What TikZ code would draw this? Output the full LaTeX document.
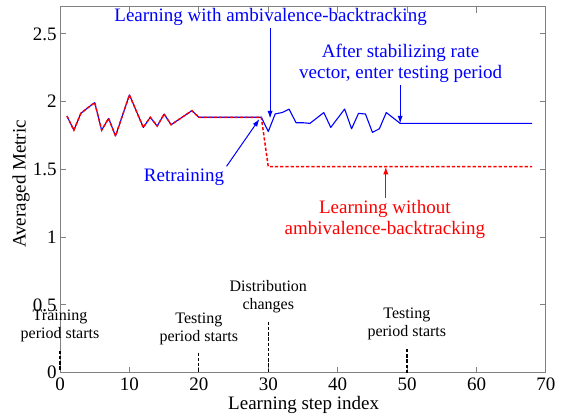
\documentclass[tikz,border=0pt]{standalone}
\usepackage{fontspec}
\setmainfont{Liberation Serif}
\usetikzlibrary{arrows.meta}

\begin{document}
\begin{tikzpicture}[x=3.471pt, y=67.75pt,
	every node/.style={font=\fontsize{9.5}{10.5}\selectfont},
	axisline/.style={black!50, line width=0.5pt},
	bluetext/.style={blue, align=center, inner sep=1pt},
	redtext/.style={red, align=center, inner sep=1pt},
	note/.style={align=center, inner sep=0pt, font=\fontsize{8}{8.75}\selectfont},
	blueline/.style={blue, line width=0.55pt, line join=round},
	redline/.style={red, line width=0.75pt, dash pattern=on 1.6pt off 1pt},
	bluearrow/.style={blue, line width=0.5pt, -{Latex[length=3.8pt,width=2.6pt]}},
	redarrow/.style={red, line width=0.5pt, -{Latex[length=3.8pt,width=2.6pt]}},
	startline/.style={black, dash pattern=on 1.7pt off 0.9pt}]
	\useasboundingbox (-8.643,-0.3343) rectangle (72.31,2.7506);
	% axes box and ticks
	\draw[axisline] (0,0) rectangle (70,2.7);
	\foreach \x in {10,20,...,60} {
		\draw[axisline] (\x,0) -- ++(0,3pt);
		\draw[axisline] (\x,2.7) -- ++(0,-3pt);
	}
	\foreach \y in {0.5,1,1.5,2,2.5} {
		\draw[axisline] (0,\y) -- ++(3pt,0);
		\draw[axisline] (70,\y) -- ++(-3pt,0);
	}
	\foreach \x in {0,10,...,70}
		\node (xt\x) at (\x,-0.087) {\x};
	\foreach \y [count=\i] in {0,0.5,1,1.5,2,2.5}
		\node[anchor=east, inner sep=0pt] (yt\i) at (-0.43,\y) {\y};
	\node (xlab) at (35.1,-0.238) {Learning step index};
	\node[rotate=90] (ylab) at (-5.62,1.393) {Averaged Metric};
	% with backtracking
	\draw[blueline] (1,1.894) -- (2,1.79) -- (3,1.914) -- (4,1.955) -- (5,1.993) -- (6,1.79) -- (7,1.877) -- (8,1.747) -- (10,2.05) -- (12,1.81) -- (13,1.885) -- (14,1.82) -- (15,1.909) -- (16,1.83) -- (19,1.934) -- (20,1.885) -- (29,1.885) -- (30,1.78) -- (31,1.91) -- (32,1.92) -- (33,1.945) -- (34,1.845) -- (35,1.845) -- (36,1.84) -- (38,1.92) -- (39,1.81) -- (41,1.946) -- (42,1.80) -- (43,1.914) -- (44,1.909) -- (45,1.774) -- (46,1.80) -- (47,1.92) -- (49,1.84) -- (68,1.84);
	% without backtracking
	\draw[redline] (1,1.894) -- (2,1.79) -- (3,1.914) -- (4,1.955) -- (5,1.993) -- (6,1.79) -- (7,1.877) -- (8,1.747) -- (10,2.05) -- (12,1.81) -- (13,1.885) -- (14,1.82) -- (15,1.909) -- (16,1.83) -- (19,1.934) -- (20,1.885) -- (29,1.885) -- (30,1.52) -- (68,1.52);
	% annotations
	\coordinate (with) at (30.26,1.876);
	\coordinate (retr) at (28.72,1.872);
	\coordinate (stab) at (49,1.84);
	\coordinate (wo) at (46.93,1.52);
	\node[bluetext] (lblwith) at (30.33,2.625) {Learning with ambivalence-backtracking};
	\node[bluetext] (lblstab) at (49.06,2.282) {After stabilizing rate\\vector, enter testing period};
	\node[bluetext] (lblretr) at (17.87,1.444) {Retraining};
	\node[redtext] (lblwo) at (46.79,1.129) {Learning without\\ambivalence-backtracking};
	\draw[bluearrow] (lblwith.south -| with) -- (with);
	\draw[bluearrow] (lblstab.south -| stab) -- (stab);
	\draw[bluearrow] (lblretr.north east) -- (retr);
	\draw[redarrow] (lblwo.north -| wo) -- (wo);
	% period markers
	\node[note] (train) at (0,0.345) {Training\\period starts};
	\node[note] (test1) at (20,0.322) {Testing\\period starts};
	\node[note] (dist) at (30,0.561) {Distribution\\changes};
	\node[note] (test2) at (49.96,0.359) {Testing\\period starts};
	\coordinate (m0) at (0,0.162);
	\coordinate (m20) at (20,0.148);
	\coordinate (m30) at (30,0.376);
	\coordinate (m50) at (50,0.175);
	\draw[startline, line width=1pt] (m0) -- (xt0.north -| m0);
	\draw[startline, line width=0.5pt] (m20) -- (20,0);
	\draw[startline, line width=0.5pt] (m30) -- (30,0);
	\draw[startline, line width=1pt] (m50) -- (50,0);
\end{tikzpicture}
\end{document}
